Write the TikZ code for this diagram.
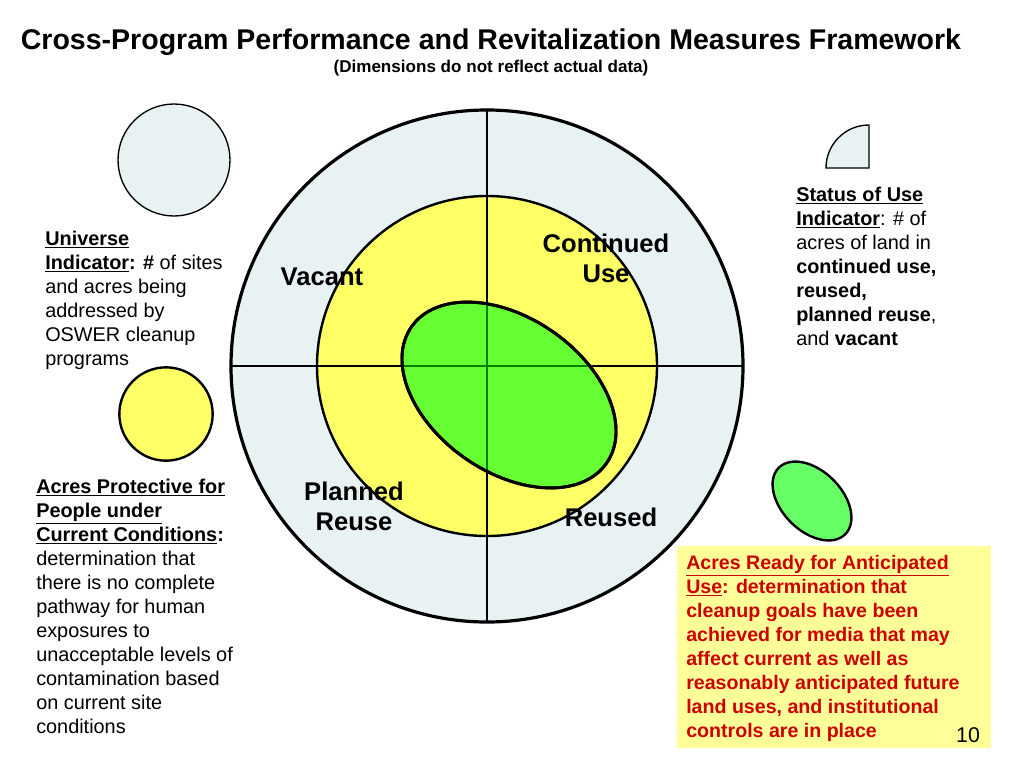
\documentclass[tikz,border=0pt]{standalone}
\usepackage{fontspec}
\setmainfont{Liberation Sans}
\definecolor{ringgray}{HTML}{E9F2F3}
\definecolor{ylw}{HTML}{FFFF66}
\definecolor{grn}{HTML}{66FF33}
\definecolor{grnlt}{HTML}{66FF66}
\definecolor{dkgrn}{HTML}{008000}
\definecolor{boxylw}{HTML}{FFFF99}
\definecolor{redtxt}{HTML}{CC0000}
\tikzset{
  body/.style={anchor=north west, inner sep=0pt, align=left, font=\fontsize{14.9}{18}\selectfont},
  quad/.style={inner sep=0pt, align=center, font=\fontsize{19.2}{22.5}\selectfont\bfseries},
}
\begin{document}
\begin{tikzpicture}[x=0.75pt,y=-0.75pt]
\useasboundingbox (0,0) rectangle (1024,768);
\fill[white] (0,0) rectangle (1024,768);
% title
\node[inner sep=0pt, font=\fontsize{21.4}{24}\selectfont\bfseries] (title) at (491,42) {Cross-Program Performance and Revitalization Measures Framework};
\node[inner sep=0pt, font=\fontsize{12.8}{14}\selectfont\bfseries] (subtitle) at (491,68) {(Dimensions do not reflect actual data)};
% main circle
\coordinate (c) at (487,366);
\draw[line width=2.4pt, fill=ringgray] (c) circle[radius=192pt];
\draw[line width=1.8pt, fill=ylw] (c) circle[radius=127.5pt];
\draw[line width=2.2pt, fill=grn, rotate around={-35:(509,395)}] (509,395) ellipse[x radius=89.25pt, y radius=57.75pt];
\coordinate (top) at (487,110);
\coordinate (bot) at (487,622);
\coordinate (lft) at (231,366);
\coordinate (rgt) at (743,366);
\draw[line width=2.2pt] (top) -- (bot);
\draw[line width=2.2pt] (lft) -- (rgt);
\begin{scope}
\clip[rotate around={-35:(509,395)}] (509,395) ellipse[x radius=89.25pt, y radius=57.75pt];
\draw[line width=2.2pt, dkgrn] (top) -- (bot);
\draw[line width=2.2pt, dkgrn] (lft) -- (rgt);
\end{scope}
\draw[line width=2.2pt, rotate around={-35:(509,395)}] (509,395) ellipse[x radius=89.25pt, y radius=57.75pt];
% quadrant labels
\node[quad] (vacant) at (322,277) {Vacant};
\node[quad] (contuse) at (606,258) {Continued\\Use};
\node[quad] (planned) at (354,506) {Planned\\Reuse};
\node[quad] (reused) at (611,517) {Reused};
% small icons
\draw[line width=1pt, fill=ringgray] (174,160) circle[radius=42pt];
\draw[line width=1.8pt, fill=ylw] (166,414) circle[radius=35pt];
\draw[line width=1.8pt, fill=grnlt, rotate around={-45:(812,501)}] (812,501) ellipse[x radius=35.25pt, y radius=22.5pt];
\draw[line width=1pt, fill=ringgray] (869,168) -- (826,168) arc[start angle=180, end angle=90, radius=32.25pt] -- cycle;
% text blocks
\node[body] (universe) at (45,231) {\textbf{\underline{Universe}}\\\textbf{\underline{Indicator}: \#} of sites\\and acres being\\addressed by\\OSWER cleanup\\programs};
\node[body] (status) at (796,187) {\textbf{\underline{Status of Use}}\\\textbf{\underline{Indicator}}: \# of\\acres of land in\\\textbf{continued use,}\\\textbf{reused,}\\\textbf{planned reuse}, \\and \textbf{vacant}};
\node[body] (protective) at (36,479) {\textbf{\underline{Acres Protective for}}\\\textbf{\underline{People under}}\\\textbf{\underline{Current Conditions}:}\\determination that\\there is no complete\\pathway for human\\exposures to\\unacceptable levels of\\contamination based\\on current site\\conditions};
\fill[boxylw] (677,546) rectangle (991,748);
\node[body, text=redtxt, font=\fontsize{14.7}{18}\selectfont\bfseries] (ready) at (686,555) {\underline{Acres Ready for Anticipated}\\\underline{Use}: determination that\\cleanup goals have been\\achieved for media that may\\affect current as well as\\reasonably anticipated future\\land uses, and institutional\\controls are in place};
\node[inner sep=0pt, font=\fontsize{16}{18}\selectfont] (pagenum) at (968,735) {10};
\end{tikzpicture}
\end{document}
